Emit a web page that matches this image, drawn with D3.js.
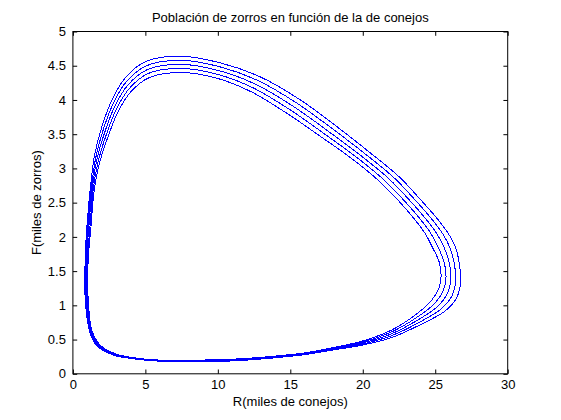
<!DOCTYPE html>
<html>
<head>
<meta charset="utf-8">
<script src="https://cdn.jsdelivr.net/npm/d3@7"></script>
<style>
  body { margin: 0; background: #fff; }
  svg text { font-family: "Liberation Sans", Arial, sans-serif; }
</style>
</head>
<body>
<div class="chart"></div>
<script>
	// data: five laps of the R-F orbit (rabbits R, foxes F), inner to outer
	var loop1 = [[1.05,1.1],[1.3,0.64],[1.75,0.45],[2.25,0.36],[3.1,0.28],[3.9,0.245],[5.5,0.205],[7.5,0.2],[10,0.205],[12,0.225],[14,0.26],[16,0.305],[18,0.385],[20,0.48],[22,0.64],[23.5,0.84],[24.7,1.06],[25.25,1.25],[25.4,1.42],[25.28,1.63],[24.8,1.85],[24.3,2.05],[23.6,2.25],[22.5,2.52],[21.1,2.82],[19.2,3.15],[17.2,3.45],[14.8,3.8],[12.3,4.12],[9.9,4.32],[7.5,4.4],[5.3,4.33],[4.0,4.12],[3.1,3.82],[2.4,3.45],[1.8,3.05],[1.45,2.65],[1.25,2.15],[1.05,1.65]];
	var loop2 = [[1.0,1.1],[1.26,0.635],[1.71,0.44],[2.21,0.355],[3.08,0.275],[3.88,0.24],[5.5,0.2],[7.5,0.195],[10,0.2],[12,0.22],[14,0.255],[16,0.3],[18,0.375],[20,0.465],[22,0.613],[23.63,0.81],[24.95,1.025],[25.55,1.213],[25.74,1.398],[25.63,1.618],[25.2,1.85],[24.7,2.05],[24.0,2.25],[22.88,2.525],[21.45,2.835],[19.53,3.17],[17.5,3.483],[15.03,3.85],[12.45,4.175],[9.98,4.375],[7.48,4.46],[5.23,4.39],[3.9,4.17],[3.0,3.865],[2.3,3.49],[1.73,3.09],[1.4,2.69],[1.19,2.175],[1.0,1.66]];
	var loop3 = [[0.95,1.1],[1.22,0.63],[1.68,0.435],[2.18,0.35],[3.05,0.27],[3.85,0.238],[5.5,0.198],[7.5,0.19],[10,0.193],[12,0.213],[14,0.248],[16,0.293],[18,0.368],[20,0.45],[22,0.585],[23.75,0.78],[25.2,0.99],[25.85,1.175],[26.08,1.375],[25.98,1.605],[25.6,1.85],[25.1,2.05],[24.4,2.25],[23.25,2.53],[21.8,2.85],[19.85,3.19],[17.8,3.515],[15.25,3.9],[12.6,4.23],[10.05,4.43],[7.45,4.52],[5.15,4.445],[3.8,4.22],[2.9,3.91],[2.2,3.53],[1.65,3.125],[1.35,2.725],[1.12,2.2],[0.95,1.675]];
	var loop4 = [[0.9,1.1],[1.19,0.625],[1.64,0.43],[2.14,0.345],[3.03,0.265],[3.83,0.234],[5.5,0.194],[7.5,0.183],[10,0.186],[12,0.206],[14,0.241],[16,0.286],[18,0.358],[20,0.435],[22,0.558],[23.88,0.75],[25.45,0.955],[26.15,1.138],[26.41,1.353],[26.33,1.593],[26.0,1.85],[25.5,2.05],[24.8,2.25],[23.63,2.535],[22.15,2.865],[20.18,3.21],[18.1,3.548],[15.48,3.95],[12.75,4.285],[10.13,4.485],[7.43,4.58],[5.08,4.5],[3.7,4.27],[2.8,3.955],[2.1,3.57],[1.58,3.16],[1.3,2.76],[1.06,2.225],[0.9,1.69]];
	var loop5 = [[0.85,1.1],[1.15,0.62],[1.6,0.42],[2.1,0.34],[3.0,0.26],[3.8,0.23],[5.5,0.19],[7.5,0.177],[10,0.18],[12,0.2],[14,0.235],[16,0.28],[18,0.35],[20,0.42],[22,0.53],[24,0.72],[25.7,0.92],[26.45,1.1],[26.75,1.33],[26.68,1.58],[26.4,1.85],[25.9,2.05],[25.2,2.25],[24,2.54],[22.5,2.88],[20.5,3.23],[18.4,3.58],[15.7,4.0],[12.9,4.34],[10.2,4.54],[7.4,4.64],[5.0,4.56],[3.6,4.32],[2.7,4.0],[2.0,3.61],[1.5,3.2],[1.25,2.8],[1.0,2.25],[0.85,1.7]];
	var loops = [loop1, loop2, loop3, loop4, loop5];

	var xTicks = [0, 5, 10, 15, 20, 25, 30];
	var yTicks = [0, 0.5, 1, 1.5, 2, 2.5, 3, 3.5, 4, 4.5, 5];
	var title = "Población de zorros en función de la de conejos";
	var xTitle = "R(miles de conejos)";
	var yTitle = "F(miles de zorros)";

	var svg_w = 561, svg_h = 420;
	var svg = d3.select("div.chart").append("svg")
		.attr("width", svg_w)
		.attr("height", svg_h);

	// matlab default axes position
	var axL = 72.9, axR = 507.7, axT = 31.5, axB = 373.8;

	var x = d3.scaleLinear().domain([0, 30]).range([axL, axR]);
	var y = d3.scaleLinear().domain([0, 5]).range([axB, axT]);

	// curves
	var line = d3.line()
		.x(function(d) { return x(d[0]); })
		.y(function(d) { return y(d[1]); })
		.curve(d3.curveCatmullRomClosed.alpha(0.5));

	svg.append("g")
		.selectAll("path")
		.data(loops)
		.enter()
		.append("path")
		.attr("d", line)
		.attr("fill", "none")
		.attr("stroke", "#0000ff")
		.attr("stroke-width", 1)
		.attr("shape-rendering", "crispEdges");

	// axes, ticks pointing in, box on
	var tl = 4.3;
	svg.append("g")
		.attr("transform", "translate(0," + axB + ")")
		.call(d3.axisBottom(x).tickValues(xTicks).tickSizeInner(-tl).tickSizeOuter(0).tickPadding(6).tickFormat(d3.format("")));
	svg.append("g")
		.attr("transform", "translate(0," + axT + ")")
		.call(d3.axisTop(x).tickValues(xTicks).tickSizeInner(-tl).tickSizeOuter(0).tickFormat(""));
	svg.append("g")
		.attr("transform", "translate(" + axL + ",0)")
		.call(d3.axisLeft(y).tickValues(yTicks).tickSizeInner(-tl).tickSizeOuter(0).tickPadding(7).tickFormat(d3.format("")));
	svg.append("g")
		.attr("transform", "translate(" + axR + ",0)")
		.call(d3.axisRight(y).tickValues(yTicks).tickSizeInner(-tl).tickSizeOuter(0).tickFormat(""));

	svg.selectAll(".domain").remove();
	svg.selectAll(".tick line").attr("stroke", "#000");
	svg.selectAll(".tick text")
		.attr("font-size", "13px")
		.attr("fill", "#000");

	svg.append("rect")
		.attr("x", axL)
		.attr("y", axT)
		.attr("width", axR - axL)
		.attr("height", axB - axT)
		.attr("fill", "none")
		.attr("stroke", "#000")
		.attr("stroke-width", 1);

	// labels
	svg.append("text")
		.attr("x", (axL + axR) / 2)
		.attr("y", 22)
		.attr("text-anchor", "middle")
		.attr("font-size", "13px")
		.text(title);
	svg.append("text")
		.attr("x", (axL + axR) / 2)
		.attr("y", 406)
		.attr("text-anchor", "middle")
		.attr("font-size", "13px")
		.text(xTitle);
	svg.append("text")
		.attr("transform", "translate(41," + ((axT + axB) / 2) + ") rotate(-90)")
		.attr("text-anchor", "middle")
		.attr("font-size", "13px")
		.text(yTitle);
</script>
</body>
</html>
